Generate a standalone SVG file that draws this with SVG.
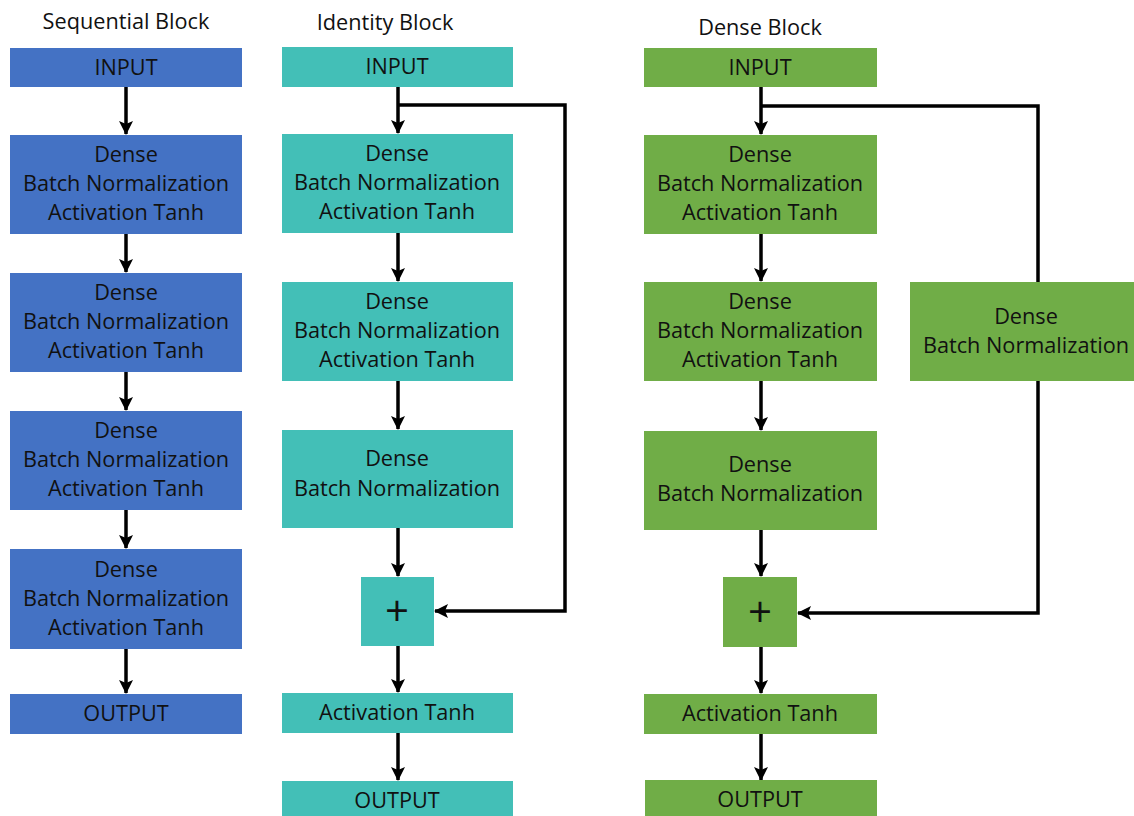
<svg xmlns="http://www.w3.org/2000/svg" width="1134" height="816" viewBox="0 0 1134 816">
<defs>
<style>
text{font-family:"Open Sans","Liberation Sans",sans-serif;font-size:21.7px;fill:#111;text-anchor:middle}
.seq{fill:#4472C4}
.idn{fill:#43BFB7}
.dns{fill:#70AD47}
.plus{font-size:42px}
.ln{stroke:#000;stroke-width:3.5;fill:none}
</style>
<marker id="ah" markerUnits="userSpaceOnUse" markerWidth="14" markerHeight="14" viewBox="0 0 14 14" refX="13" refY="7" orient="auto">
<path d="M0,0 L14,7 L0,14 L3,7 Z" fill="#000"/>
</marker>
</defs>
<rect width="1134" height="816" fill="#fff"/>

<g id="titles">
<text x="126" y="29">Sequential Block</text>
<text x="385" y="30">Identity Block</text>
<text x="760" y="35">Dense Block</text>
</g>

<g id="connectors">
<line class="ln" x1="126" y1="87" x2="126" y2="134" marker-end="url(#ah)"/>
<line class="ln" x1="126" y1="234" x2="126" y2="272" marker-end="url(#ah)"/>
<line class="ln" x1="126" y1="372" x2="126" y2="410" marker-end="url(#ah)"/>
<line class="ln" x1="126" y1="510" x2="126" y2="548" marker-end="url(#ah)"/>
<line class="ln" x1="126" y1="649" x2="126" y2="693" marker-end="url(#ah)"/>

<line class="ln" x1="398" y1="87" x2="398" y2="133" marker-end="url(#ah)"/>
<line class="ln" x1="398" y1="233" x2="398" y2="281" marker-end="url(#ah)"/>
<line class="ln" x1="398" y1="381" x2="398" y2="429" marker-end="url(#ah)"/>
<line class="ln" x1="398" y1="528" x2="398" y2="576" marker-end="url(#ah)"/>
<line class="ln" x1="398" y1="646" x2="398" y2="692" marker-end="url(#ah)"/>
<line class="ln" x1="398" y1="733" x2="398" y2="780" marker-end="url(#ah)"/>
<path class="ln" d="M398,105 H565 V611 H435" marker-end="url(#ah)"/>

<line class="ln" x1="761" y1="87" x2="761" y2="134" marker-end="url(#ah)"/>
<line class="ln" x1="761" y1="234" x2="761" y2="281" marker-end="url(#ah)"/>
<line class="ln" x1="761" y1="381" x2="761" y2="430" marker-end="url(#ah)"/>
<line class="ln" x1="761" y1="530" x2="761" y2="576" marker-end="url(#ah)"/>
<line class="ln" x1="761" y1="647" x2="761" y2="693" marker-end="url(#ah)"/>
<line class="ln" x1="761" y1="734" x2="761" y2="780" marker-end="url(#ah)"/>
<path class="ln" d="M761,106 H1038 V613 H798" marker-end="url(#ah)"/>
</g>

<g id="seq-input"><rect class="seq" x="10" y="48" width="232" height="39"/><text x="126" y="75">INPUT</text></g>
<g id="seq-l1"><rect class="seq" x="10" y="135" width="232" height="99"/><text x="126" y="162">Dense</text><text x="126" y="191">Batch Normalization</text><text x="126" y="220">Activation Tanh</text></g>
<g id="seq-l2"><rect class="seq" x="10" y="273" width="232" height="99"/><text x="126" y="300">Dense</text><text x="126" y="329">Batch Normalization</text><text x="126" y="358">Activation Tanh</text></g>
<g id="seq-l3"><rect class="seq" x="10" y="411" width="232" height="99"/><text x="126" y="438">Dense</text><text x="126" y="467">Batch Normalization</text><text x="126" y="496">Activation Tanh</text></g>
<g id="seq-l4"><rect class="seq" x="10" y="549" width="232" height="100"/><text x="126" y="577">Dense</text><text x="126" y="606">Batch Normalization</text><text x="126" y="635">Activation Tanh</text></g>
<g id="seq-output"><rect class="seq" x="10" y="694" width="232" height="40"/><text x="126" y="721">OUTPUT</text></g>

<g id="idn-input"><rect class="idn" x="282" y="47" width="231" height="40"/><text x="397" y="74">INPUT</text></g>
<g id="idn-l1"><rect class="idn" x="282" y="134" width="231" height="99"/><text x="397" y="161">Dense</text><text x="397" y="190">Batch Normalization</text><text x="397" y="219">Activation Tanh</text></g>
<g id="idn-l2"><rect class="idn" x="282" y="282" width="231" height="99"/><text x="397" y="309">Dense</text><text x="397" y="338">Batch Normalization</text><text x="397" y="367">Activation Tanh</text></g>
<g id="idn-l3"><rect class="idn" x="282" y="430" width="231" height="98"/><text x="397" y="466">Dense</text><text x="397" y="496">Batch Normalization</text></g>
<g id="idn-add"><rect class="idn" x="361" y="577" width="73" height="69"/><text class="plus" x="397" y="626">+</text></g>
<g id="idn-act"><rect class="idn" x="282" y="693" width="231" height="40"/><text x="397" y="720">Activation Tanh</text></g>
<g id="idn-output"><rect class="idn" x="282" y="781" width="231" height="40"/><text x="397" y="808">OUTPUT</text></g>

<g id="dns-input"><rect class="dns" x="644" y="48" width="233" height="39"/><text x="760" y="75">INPUT</text></g>
<g id="dns-l1"><rect class="dns" x="644" y="135" width="233" height="99"/><text x="760" y="162">Dense</text><text x="760" y="191">Batch Normalization</text><text x="760" y="220">Activation Tanh</text></g>
<g id="dns-l2"><rect class="dns" x="644" y="282" width="233" height="99"/><text x="760" y="309">Dense</text><text x="760" y="338">Batch Normalization</text><text x="760" y="367">Activation Tanh</text></g>
<g id="dns-l3"><rect class="dns" x="644" y="431" width="233" height="99"/><text x="760" y="472">Dense</text><text x="760" y="501">Batch Normalization</text></g>
<g id="dns-side"><rect class="dns" x="910" y="282" width="224" height="99"/><text x="1026" y="324">Dense</text><text x="1026" y="353">Batch Normalization</text></g>
<g id="dns-add"><rect class="dns" x="723" y="577" width="74" height="70"/><text class="plus" x="760" y="627">+</text></g>
<g id="dns-act"><rect class="dns" x="644" y="694" width="233" height="40"/><text x="760" y="721">Activation Tanh</text></g>
<g id="dns-output"><rect class="dns" x="645" y="780" width="232" height="40"/><text x="760" y="807">OUTPUT</text></g>
</svg>
